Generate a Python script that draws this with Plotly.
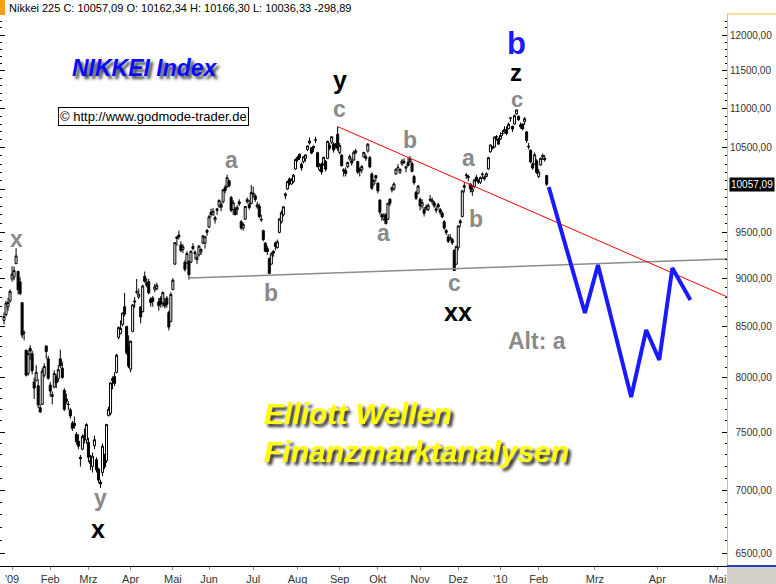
import math
import plotly.graph_objects as go

# ---------------- DATA (Nikkei 225 daily, Dec 25 2008 .. Feb 5 2010) ----------------
opens = [
    8560, 8620, 8700, 8760,
    8991, 9012, 9155, 9072, 8960, 8742, 8434, 8264, 8040, 8283, 8230, 7959, 7971, 7923, 7720, 7750, 8022, 8306, 8180,
    7930, 7840, 7910, 8010, 7990, 8180, 8090, 7880, 7800, 7750, 7700, 7580, 7580, 7480, 7420, 7280, 7350, 7470, 7430,
    7410, 7250, 7200, 7380, 7260, 7180, 7070, 7150, 7290, 7250, 7650, 7670, 7990, 8010, 8050, 8390, 8430, 8520, 8700, 8500, 8290,
    8080, 8450, 8760, 8850, 8800, 8700, 8650, 9020, 8950, 8960, 8780, 8790, 8880, 8890, 8750, 8790, 8740, 8740, 8790, 8640, 8550,
    8880, 9150, 9450, 9470, 9360, 9310, 9170, 9160, 9180, 9170, 9320, 9280, 9200, 9250, 9280, 9380, 9380, 9500,
    9560, 9730, 9700, 9640, 9750, 9800, 9820, 9850, 10020, 10030, 10100, 9900, 9760, 9770, 9760, 9850, 9620, 9550, 9650, 9850, 9820, 9830,
    9950, 9920, 9790, 9800, 9640, 9520, 9380, 9320, 9210, 9150, 9290, 9380, 9330, 9500, 9620, 9700, 9920, 10000, 10120, 10060, 10090, 10240,
    10380, 10420, 10300, 10330, 10370, 10480, 10560, 10500, 10500, 10600, 10440, 10230, 10300, 10300, 10330, 10370, 10530, 10570, 10550, 10520, 10670,
    10440, 10410, 10230, 10220, 10270, 10360, 10340, 10350, 10460, 10330, 10240, 10230, 10390, 10390, 10460, 10380, 10180, 10060, 10160,
    10070, 9870, 9700, 9650, 9700, 9650, 9880, 9990, 10000, 10180, 10260, 10200, 10300, 10320, 10250, 10320, 10330, 10310, 10150, 9960, 9950,
    9880, 9800, 9760, 9770, 9760, 9880, 9850, 9840, 9750, 9820, 9760, 9720, 9620, 9520, 9450, 9430, 9420, 9300, 9150,
    9330, 9630, 9680, 10040, 10160, 10150, 10060, 9970, 10030, 10140, 10100, 10080, 10170, 10120, 10150, 10240, 10450, 10510, 10510, 10640, 10610,
    10610, 10680, 10700, 10730, 10740, 10870, 10770, 10800, 10930, 10900, 10790, 10800, 10830, 10700, 10520, 10470, 10300, 10300, 10340,
    10150, 10290, 10390, 10370, 10162.34,
]
highs = [
    8640, 8760, 8790, 8880,
    9127, 9125, 9325, 9072, 9009, 8742, 8460, 8264, 8262, 8313, 8260, 8000, 8119, 7985, 7750, 8090, 8137, 8306, 8210,
    7960, 7870, 8070, 8030, 8120, 8270, 8150, 7900, 7850, 7780, 7720, 7600, 7640, 7500, 7480, 7300, 7480, 7530, 7580,
    7450, 7300, 7320, 7470, 7280, 7190, 7090, 7400, 7310, 7570, 7730, 7960, 8010, 8050, 8230, 8500, 8560, 8640, 8843, 8500, 8410,
    8360, 8730, 8800, 8990, 8890, 8700, 8930, 9070, 9000, 8990, 8800, 8810, 8940, 8950, 8790, 8810, 8860, 8790, 8810, 8660, 8850,
    9000, 9390, 9450, 9520, 9400, 9370, 9190, 9290, 9190, 9300, 9380, 9300, 9260, 9360, 9320, 9470, 9460, 9540,
    9700, 9770, 9780, 9690, 9780, 9880, 9850, 10000, 10050, 10170, 10110, 9920, 9870, 9790, 9810, 9880, 9640, 9610, 9800, 9900, 9870, 10050,
    10030, 9940, 9850, 9830, 9700, 9530, 9390, 9350, 9220, 9280, 9300, 9400, 9420, 9660, 9750, 9800, 9960, 10100, 10140, 10130, 10180, 10370,
    10400, 10430, 10320, 10400, 10420, 10530, 10630, 10510, 10530, 10640, 10450, 10310, 10320, 10390, 10350, 10590, 10560, 10640, 10570, 10560, 10767,
    10560, 10420, 10250, 10260, 10330, 10420, 10370, 10470, 10490, 10340, 10260, 10290, 10450, 10420, 10560, 10400, 10200, 10120, 10170,
    10080, 9880, 9720, 9720, 9720, 9840, 9890, 10030, 10080, 10250, 10300, 10250, 10360, 10370, 10280, 10380, 10400, 10330, 10170, 9980, 10050,
    9900, 9880, 9790, 9820, 9830, 9930, 9900, 9860, 9800, 9840, 9780, 9740, 9640, 9540, 9480, 9480, 9440, 9310, 9350,
    9580, 9650, 9990, 10080, 10190, 10170, 10070, 10040, 10120, 10170, 10120, 10150, 10200, 10160, 10200, 10390, 10540, 10520, 10640, 10660, 10630,
    10694, 10720, 10770, 10770, 10820, 10890, 10780, 10920, 10982, 10910, 10820, 10810, 10890, 10710, 10560, 10480, 10320, 10440, 10360,
    10240, 10380, 10430, 10410, 10166.30,
]
lows = [
    8520, 8600, 8660, 8740,
    8961, 8976, 9150, 8828, 8820, 8381, 8360, 8010, 8020, 8170, 8030, 7800, 7962, 7717, 7671, 7747, 8002, 8180, 7980,
    7820, 7750, 7900, 7900, 7960, 8090, 7990, 7690, 7750, 7700, 7620, 7510, 7530, 7390, 7350, 7200, 7340, 7400, 7400,
    7240, 7170, 7150, 7350, 7150, 7060, 7021, 7120, 7180, 7230, 7640, 7650, 7890, 7920, 8040, 8370, 8420, 8500, 8600, 8220, 8090,
    8050, 8440, 8690, 8830, 8780, 8530, 8640, 8950, 8900, 8830, 8700, 8700, 8850, 8870, 8660, 8690, 8700, 8680, 8690, 8460, 8540,
    8870, 9140, 9350, 9420, 9280, 9270, 9070, 9150, 8983, 9160, 9300, 9200, 9150, 9230, 9250, 9370, 9320, 9460,
    9550, 9670, 9690, 9600, 9700, 9780, 9740, 9830, 9950, 10010, 10020, 9730, 9700, 9690, 9700, 9800, 9530, 9520, 9640, 9830, 9760, 9820,
    9900, 9850, 9770, 9660, 9620, 9400, 9280, 9250, 9050, 9140, 9230, 9300, 9320, 9490, 9600, 9680, 9880, 9990, 10040, 10050, 10070, 10230,
    10330, 10350, 10220, 10310, 10330, 10460, 10540, 10420, 10450, 10560, 10260, 10210, 10170, 10280, 10210, 10360, 10470, 10550, 10440, 10490, 10460,
    10420, 10270, 10150, 10150, 10250, 10340, 10280, 10340, 10420, 10180, 10150, 10190, 10380, 10340, 10440, 10250, 9990, 10040, 10090,
    9950, 9700, 9630, 9630, 9590, 9640, 9800, 9960, 9980, 10170, 10230, 10180, 10280, 10300, 10200, 10270, 10310, 10200, 10050, 9870, 9940,
    9750, 9770, 9680, 9750, 9740, 9850, 9820, 9780, 9720, 9770, 9700, 9660, 9530, 9470, 9380, 9410, 9360, 9076, 9140,
    9300, 9560, 9670, 9960, 10120, 10090, 9960, 9920, 10010, 10090, 10060, 10060, 10120, 10100, 10140, 10230, 10440, 10480, 10500, 10590, 10540,
    10600, 10650, 10680, 10660, 10730, 10830, 10700, 10790, 10920, 10840, 10740, 10720, 10790, 10560, 10480, 10310, 10230, 10290, 10180,
    10130, 10280, 10350, 10330, 10036.33,
]
closes = [
    8599, 8739, 8742, 8859,
    9043, 9080, 9239, 8876, 8836, 8413, 8438, 8023, 8230, 8256, 8065, 7901, 8051, 7745, 7682, 8061, 8106, 8251, 7994,
    7873, 7825, 8038, 7949, 8076, 8112, 8000, 7705, 7779, 7750, 7645, 7534, 7557, 7416, 7376, 7268, 7461, 7458, 7568,
    7280, 7229, 7290, 7433, 7173, 7086, 7054, 7376, 7198, 7569, 7704, 7949, 7972, 7945, 8215, 8488, 8479, 8636, 8626, 8236, 8109,
    8351, 8719, 8749, 8857, 8832, 8595, 8916, 8964, 8924, 8842, 8742, 8755, 8907, 8924, 8711, 8727, 8847, 8707, 8726, 8493, 8828,
    8977, 9385, 9432, 9451, 9298, 9340, 9093, 9265, 9038, 9290, 9344, 9264, 9225, 9347, 9310, 9461, 9451, 9522,
    9677, 9704, 9741, 9668, 9768, 9865, 9787, 9991, 9981, 10135, 10039, 9752, 9840, 9703, 9786, 9826, 9549, 9590, 9796, 9877, 9783, 9958,
    9939, 9876, 9816, 9680, 9647, 9420, 9291, 9287, 9050, 9261, 9269, 9344, 9395, 9652, 9723, 9792, 9944, 10088, 10087, 10113, 10165, 10356,
    10352, 10375, 10252, 10388, 10412, 10524, 10585, 10435, 10517, 10597, 10268, 10284, 10204, 10383, 10238, 10581, 10497, 10639, 10473, 10534, 10492,
    10530, 10280, 10214, 10187, 10320, 10393, 10312, 10444, 10444, 10202, 10217, 10270, 10443, 10370, 10544, 10265, 10009, 10100, 10133,
    9978, 9731, 9674, 9691, 9599, 9832, 9832, 10016, 10060, 10238, 10257, 10236, 10336, 10333, 10267, 10282, 10362, 10212, 10075, 9891, 10034,
    9802, 9844, 9717, 9789, 9808, 9870, 9871, 9804, 9770, 9791, 9729, 9676, 9549, 9497, 9401, 9441, 9383, 9081, 9345,
    9572, 9608, 9978, 10022, 10167, 10140, 10004, 10002, 10107, 10105, 10083, 10138, 10177, 10142, 10183, 10378, 10536, 10494, 10634, 10638, 10546,
    10654, 10681, 10731, 10681, 10798, 10879, 10735, 10907, 10982, 10855, 10764, 10737, 10868, 10590, 10512, 10325, 10252, 10414, 10198,
    10205, 10371, 10404, 10355, 10057.09,
]

# x axis: trading-day index; bars before Jan 2009, trading days per month, calendar days in projection months
pre_bars = 4
bars_per_month = [19, 19, 21, 21, 18, 22, 22, 21, 19, 21, 19, 21, 19]
future_days_per_month = [28, 31, 30]
month_labels = ["'09", "Feb", "Mrz", "Apr", "Mai", "Jun", "Jul", "Aug", "Sep", "Okt",
                "Nov", "Dez", "'10", "Feb", "Mrz", "Apr", "Mai"]

price_ticks = [6500, 7000, 7500, 8000, 8500, 9000, 9500, 10000, 10500, 11000, 11500, 12000]

# Elliott projection (blue) – index position, price
proj_x = [271, 289, 295.5, 312, 319.5, 326, 332.5, 341.5]
proj_y = [10025, 8636, 9140, 7818, 8464, 8168, 9108, 8770]

# trend lines
resistance_x = [166, 360]
resistance_y = [10767, 8800]
support_x = [92, 360]
support_y = [9000, 9206]

# wave labels: text, x index, price, colour, size
GRAY = "#8a8a8a"
wave_labels = [
    ("x", 6, 9430, GRAY, 23),
    ("y", 47.8, 6939, GRAY, 23),
    ("x", 46.8, 6688, "black", 25),
    ("a", 113, 10350, GRAY, 23),
    ("b", 132.8, 8843, GRAY, 23),
    ("c", 166.7, 10994, GRAY, 23),
    ("y", 167.2, 11377, "black", 25),
    ("b", 202, 10598, GRAY, 23),
    ("a", 188.6, 9493, GRAY, 23),
    ("a", 231.3, 10374, GRAY, 23),
    ("b", 234.8, 9653, GRAY, 23),
    ("c", 223.9, 8948, GRAY, 23),
    ("xx", 225.9, 8646, "black", 25),
    ("c", 255.2, 11120, GRAY, 22),
    ("z", 254.7, 11480, "black", 24),
    ("b", 255.2, 11880, "#1a1aff", 31),
    ("Alt: a", 265.2, 8354, GRAY, 23),
]

# ---------------- FIGURE ----------------
assert len(opens) == len(highs) == len(lows) == len(closes)
xs = list(range(len(closes)))

tickpos = [pre_bars]
for n in bars_per_month + future_days_per_month:
    tickpos.append(tickpos[-1] + n)

FONT = "Liberation Sans, Arial, sans-serif"
FIG_SPACE = "\u2007"


def fmt_price(v):
    return f"{v:.2f}".replace(".", ",")


def axis_label(v):
    s = fmt_price(v)
    return FIG_SPACE * (8 - len(s)) + s


ymin, ymax = 6401, 12302
yrange = [math.log10(ymin), math.log10(ymax)]
last_close = closes[-1]

fig = go.Figure()
fig.add_trace(go.Candlestick(
    x=xs, open=opens, high=highs, low=lows, close=closes,
    increasing=dict(fillcolor="white", line=dict(color="black", width=1)),
    decreasing=dict(fillcolor="black", line=dict(color="black", width=1)),
    whiskerwidth=0, showlegend=False, hoverinfo="skip",
))
fig.add_trace(go.Scatter(x=support_x, y=support_y, mode="lines",
                         line=dict(color="#8c8c8c", width=1.5), showlegend=False, hoverinfo="skip"))
fig.add_trace(go.Scatter(x=resistance_x, y=resistance_y, mode="lines",
                         line=dict(color="#ff0000", width=1), showlegend=False, hoverinfo="skip"))
fig.add_trace(go.Scatter(x=proj_x, y=proj_y, mode="lines",
                         line=dict(color="#1a1aff", width=4), showlegend=False, hoverinfo="skip"))
# invisible trace so the left tick axis is drawn
fig.add_trace(go.Scatter(x=[xs[0]], y=[closes[0]], yaxis="y2", mode="markers",
                         marker=dict(opacity=0), showlegend=False, hoverinfo="skip"))

minor_vals = list(range(6500, 12301, 100))

annotations = []
for text, xi, price, color, size in wave_labels:
    annotations.append(dict(x=xi, y=math.log10(price), xref="x", yref="y", text=text,
                            xanchor="center", yanchor="middle", showarrow=False,
                            font=dict(family=FONT, size=size, color=color, weight="bold")))

annotations += [
    dict(xref="paper", yref="paper", x=145 / 727, y=(566 - 68) / 552, xanchor="center", yanchor="middle",
         text="<b><i>NIKKEI Index</i></b>", showarrow=False,
         font=dict(family=FONT, size=23, color="#0a0aff", shadow="3px 3px 3px #444")),
    dict(xref="paper", yref="paper", x=153 / 727, y=(566 - 116) / 552, xanchor="center", yanchor="middle",
         text="\u00a9 http://www.godmode-trader.de", showarrow=False,
         font=dict(family=FONT, size=13, color="black"), bgcolor="white",
         bordercolor="black", borderwidth=1, borderpad=1),
    dict(xref="paper", yref="paper", x=262 / 727, y=(566 - 413) / 552, xanchor="left", yanchor="middle",
         text="<b><i>Elliott Wellen</i></b>", showarrow=False,
         font=dict(family=FONT, size=30, color="#ffff00", shadow="3px 3px 3px #333")),
    dict(xref="paper", yref="paper", x=262 / 727, y=(566 - 451) / 552, xanchor="left", yanchor="middle",
         text="<b><i>Finanzmarktanalysen</i></b>", showarrow=False,
         font=dict(family=FONT, size=30, color="#ffff00", shadow="3px 3px 3px #333")),
    dict(xref="paper", yref="paper", x=7 / 727, y=(566 - 8) / 552, xanchor="left", yanchor="middle",
         text=f"Nikkei 225 C: {fmt_price(last_close)} O: {fmt_price(opens[-1])} "
              f"H: {fmt_price(highs[-1])} L: {fmt_price(lows[-1])} -298,89",
         showarrow=False, font=dict(family=FONT, size=11, color="black")),
    dict(xref="paper", yref="y", x=1 + 2 / 727, y=math.log10(last_close), xanchor="left", yanchor="middle",
         text=fmt_price(last_close), showarrow=False, bgcolor="black",
         font=dict(family=FONT, size=10, color="white"), borderpad=1),
]

shapes = [
    dict(type="rect", xref="paper", yref="paper", x0=0, x1=5 / 727,
         y0=(566 - 15) / 552, y1=566 / 552, fillcolor="#f5a010", line=dict(width=0)),
    dict(type="rect", xref="paper", yref="paper", x0=1, x1=776 / 727,
         y0=-18 / 552, y1=0, fillcolor="#d4d0c8", line=dict(width=0)),
    dict(type="line", xref="paper", yref="paper", x0=1, x1=776 / 727, y0=1, y1=1,
         line=dict(color="#e8c040", width=1)),
    dict(type="line", xref="paper", yref="paper", x0=1, x1=776 / 727, y0=0, y1=0,
         line=dict(color="#2040c0", width=2)),
]

fig.update_layout(
    width=776, height=584,
    margin=dict(l=0, r=49, t=14, b=18),
    paper_bgcolor="white", plot_bgcolor="white",
    font=dict(family=FONT, size=11, color="#222"),
    showlegend=False,
    boxgap=0, boxgroupgap=0,
    xaxis=dict(range=[-2, 359.7], tickmode="array", tickvals=tickpos, ticktext=month_labels,
               ticks="outside", ticklen=3, tickcolor="#888", showgrid=False, zeroline=False,
               showline=True, linecolor="black", linewidth=1, rangeslider=dict(visible=False),
               tickfont=dict(size=11, color="#333"), fixedrange=True),
    yaxis=dict(type="log", range=yrange, side="right", tickmode="array",
               tickvals=price_ticks,
               ticktext=["" if v == 10000 else axis_label(v) for v in price_ticks],
               ticks="inside", ticklen=5, tickcolor="black", showgrid=False, zeroline=False,
               showline=True, linecolor="#e8c040", linewidth=1,
               minor=dict(tickvals=minor_vals, ticks="inside", ticklen=2, tickcolor="black"),
               tickfont=dict(size=10, color="#333"), fixedrange=True),
    yaxis2=dict(type="log", range=yrange, side="left", overlaying="y", tickmode="array",
                tickvals=price_ticks, showticklabels=False, ticks="inside", ticklen=5,
                tickcolor="black", showgrid=False, zeroline=False, showline=True,
                linecolor="black", linewidth=1,
                minor=dict(tickvals=minor_vals, ticks="inside", ticklen=2, tickcolor="black"),
                fixedrange=True),
    annotations=annotations,
    shapes=shapes,
)

fig.write_html("out.html", config={"displayModeBar": False},
               post_script="document.body.style.margin='0px';")
